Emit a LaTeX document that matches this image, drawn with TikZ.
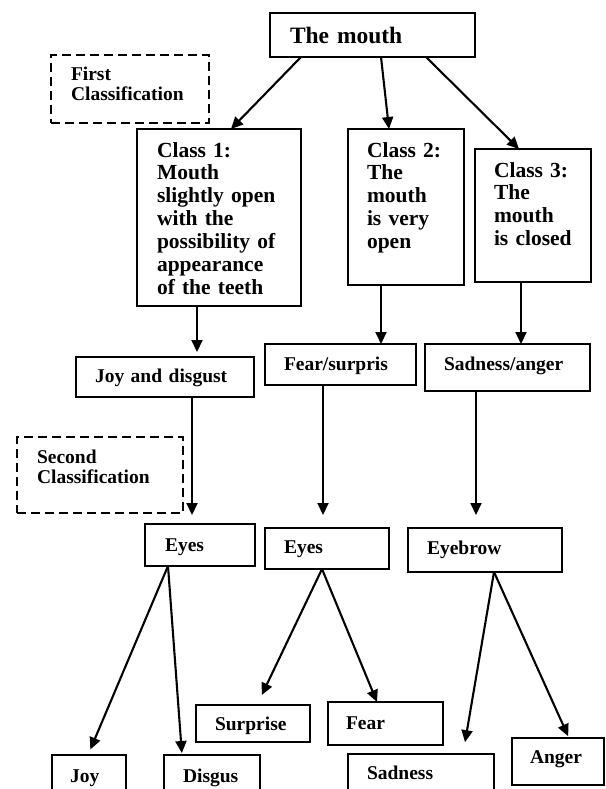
\documentclass[tikz,border=0pt]{standalone}
\usepackage{fontspec}
\setmainfont{Liberation Serif}
\usetikzlibrary{arrows.meta}
\tikzset{
  box/.style={draw, line width=1.5pt, anchor=north west, inner ysep=0pt, outer sep=0pt,
    align=left, font=\bfseries\fontsize{19.5}{20}\selectfont},
  note/.style={box, line width=2.8pt, dash pattern=on 9pt off 5pt},
  classbox/.style={box, font=\bfseries\fontsize{21.5}{22.9}\selectfont},
  arr/.style={-{Triangle[length=12pt,width=11pt]}, line width=2.1pt}
}
\begin{document}
\begin{tikzpicture}[x=1pt,y=-1pt]
\useasboundingbox (0,0) rectangle (605,789);
\clip (0,0) rectangle (605,789);
\node[box, font=\bfseries\fontsize{23.5}{24}\selectfont, inner xsep=20pt, text width=165pt, text height=31pt, text depth=13pt] (mouth) at (270,13) {The mouth};
\node[note, inner xsep=20pt, text width=118pt, text height=26pt, text depth=42pt] (first) at (51,55) {First\\Classification};
\node[classbox, inner xsep=20pt, text width=124pt, text height=28pt, text depth=149pt] (c1) at (137,129) {Class 1:\\Mouth\\slightly open\\with the\\possibility of\\appearance\\of the teeth};
\node[classbox, inner xsep=19pt, text width=78pt, text height=28pt, text depth=128pt] (c2) at (348,129) {Class 2:\\The\\mouth\\is very\\open};
\node[classbox, inner xsep=19pt, text width=78pt, text height=28pt, text depth=105pt] (c3) at (475,149) {Class 3:\\The\\mouth\\is~closed};
\node[box, inner xsep=19pt, text width=140pt, text height=25pt, text depth=15pt] (joydis) at (76,357) {Joy and disgust};
\node[box, inner xsep=19pt, text width=113pt, text height=26pt, text depth=15pt] (fearsur) at (265,344) {Fear/surpris};
\node[box, inner xsep=19pt, text width=127pt, text height=26pt, text depth=21pt] (sadang) at (425,344) {Sadness/anger};
\node[note, inner xsep=20pt, text width=126pt, text height=26pt, text depth=50pt] (second) at (17,437) {Second\\Classification};
\node[box, inner xsep=20pt, text width=70pt, text height=27pt, text depth=15pt] (eyesa) at (145,524) {Eyes};
\node[box, inner xsep=19pt, text width=86pt, text height=25pt, text depth=16pt] (eyesb) at (265,528) {Eyes};
\node[box, inner xsep=19pt, text width=116pt, text height=26pt, text depth=18pt] (eyebrow) at (408,528) {Eyebrow};
\node[box, inner xsep=19pt, text width=76pt, text height=25pt, text depth=12pt] (surprise) at (196,705) {Surprise};
\node[box, inner xsep=18pt, text width=79pt, text height=27pt, text depth=16pt] (fear) at (328,702) {Fear};
\node[box, inner xsep=18pt, text width=38pt, text height=27pt, text depth=20pt] (joy) at (52,755) {Joy};
\node[box, inner xsep=19pt, text width=58pt, text height=27pt, text depth=20pt] (disgus) at (164,755) {Disgus};
\node[box, inner xsep=19pt, text width=108pt, text height=25pt, text depth=25pt] (sadness) at (348,754) {Sadness};
\node[box, inner xsep=18pt, text width=56pt, text height=25pt, text depth=22pt] (anger) at (512,738) {Anger};
\draw[arr] ([xshift=31pt]mouth.south west) -- ([xshift=94pt]c1.north west);
\draw[arr] ([xshift=111pt]mouth.south west) -- ([xshift=41pt]c2.north west);
\draw[arr] ([xshift=156pt]mouth.south west) -- ([xshift=44pt]c3.north west);
\draw[arr, shorten >=5pt] ([xshift=60pt]c1.south west) -- ([xshift=121pt]joydis.north west);
\draw[arr] ([xshift=33pt]c2.south west) -- ([xshift=116pt]fearsur.north west);
\draw[arr] ([xshift=46pt]c3.south west) -- ([xshift=96pt]sadang.north west);
\draw[arr, shorten >=9pt] ([xshift=116pt]joydis.south west) -- ([xshift=47pt]eyesa.north west);
\draw[arr, shorten >=13pt] ([xshift=58pt]fearsur.south west) -- ([xshift=58pt]eyesb.north west);
\draw[arr, shorten >=13pt] ([xshift=51pt]sadang.south west) -- ([xshift=68pt]eyebrow.north west);
\draw[arr, shorten >=6pt] ([xshift=23pt]eyesa.south west) -- ([xshift=36pt]joy.north west);
\draw[arr, shorten >=2pt] ([xshift=23pt]eyesa.south west) -- ([xshift=18pt]disgus.north west);
\draw[arr, shorten >=11pt] ([xshift=57pt]eyesb.south west) -- ([xshift=61pt]surprise.north west);
\draw[arr] ([xshift=57pt]eyesb.south west) -- ([xshift=49pt]fear.north west);
\draw[arr, shorten >=12pt] ([xshift=86pt]eyebrow.south west) -- ([xshift=115pt]sadness.north west);
\draw[arr, shorten >=2pt] ([xshift=86pt]eyebrow.south west) -- ([xshift=57pt]anger.north west);
\end{tikzpicture}
\end{document}
